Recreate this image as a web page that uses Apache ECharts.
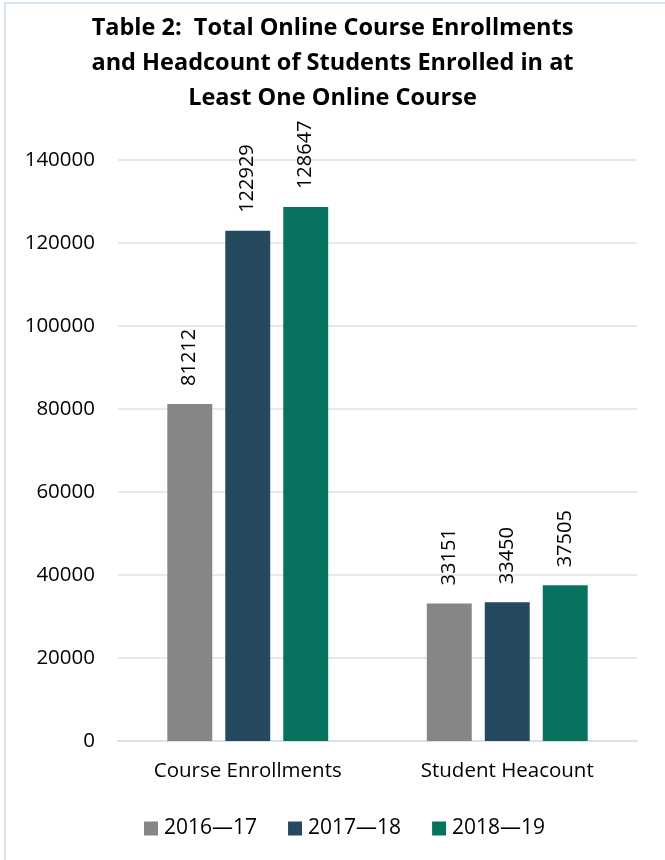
<!DOCTYPE html>
<html><head><meta charset="utf-8">
<script src="https://cdn.jsdelivr.net/npm/echarts@6/dist/echarts.min.js"></script>
<style>html,body{margin:0;padding:0;background:#fff}#c{width:665px;height:860px}</style>
</head><body><div id="c"></div>
<script>
const categories = ['Course Enrollments', 'Student Heacount'];
const seriesNames = ['2016\u201417', '2017\u201418', '2018\u201419'];
const v2016 = [81212, 33151];
const v2017 = [122929, 33450];
const v2018 = [128647, 37505];
const colors = ['#878685', '#254A5F', '#07735E'];
const values = [v2016, v2017, v2018];
const FONT = '"Open Sans", Lato, sans-serif';
const chart = echarts.init(document.getElementById('c'));
chart.setOption({
  animation: false,
  title: {
    text: 'Table 2:  Total Online Course Enrollments\nand Headcount of Students Enrolled in at\nLeast One Online Course',
    left: 'center', top: 6,
    textStyle: { fontFamily: FONT, fontSize: 23.5, fontWeight: 'bold', color: '#000', lineHeight: 35 }
  },
  graphic: [{ type: 'rect', shape: { x: 5, y: 3, width: 700, height: 900 }, style: { fill: 'none', stroke: '#D5E3EE', lineWidth: 2 }, silent: true }],
  legend: {
    bottom: 16, left: 139, itemWidth: 14, itemHeight: 14, itemGap: 31,
    icon: 'rect',
    textStyle: { fontFamily: FONT, fontSize: 21, color: '#000', padding: [0, 0, 0, 1] },
    data: seriesNames
  },
  grid: { left: 118, right: 28, top: 160, bottom: 119, containLabel: false },
  xAxis: {
    type: 'category', data: categories,
    axisLine: { lineStyle: { color: '#D5E3EE', width: 2 } },
    axisTick: { show: false },
    axisLabel: { fontFamily: FONT, fontSize: 20.5, color: '#000', margin: 20 }
  },
  yAxis: {
    type: 'value', min: 0, max: 140000, interval: 20000,
    axisLine: { show: false }, axisTick: { show: false },
    splitLine: { lineStyle: { color: '#D5E3EE', width: 1.5 } },
    axisLabel: { fontFamily: FONT, fontSize: 20.5, color: '#000', margin: 23, formatter: v => String(v) }
  },
  series: values.map((d, i) => ({
    name: seriesNames[i], type: 'bar', data: d,
    itemStyle: { color: colors[i] },
    barGap: '29%', barCategoryGap: '38%',
    label: { show: true, position: 'top', rotate: 90, align: 'left', verticalAlign: 'middle', distance: 18,
      fontFamily: FONT, fontSize: 20, color: '#000' }
  }))
});
</script></body></html>
